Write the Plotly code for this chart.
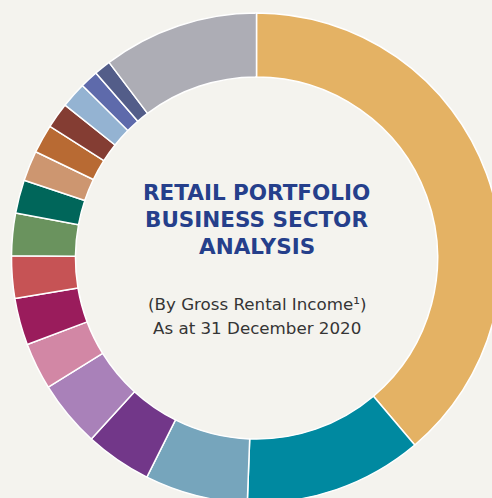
import plotly.graph_objects as go

sectors = [
    "Food & Beverage", "Fashion", "Beauty & Health", "Services", "Department Store",
    "Leisure & Entertainment", "Supermarket", "Jewellery & Watches", "Shoes & Bags",
    "Electrical & Electronics", "Home Furnishing", "Books & Stationery", "Toys & Hobbies",
    "Information Technology", "Sporting Goods", "Gifts & Souvenirs", "Others",
]
shares = [38.9, 11.8, 6.8, 4.4, 4.4, 3.1, 3.1, 2.8, 2.8, 2.2, 2.0, 1.9, 1.7, 1.7, 1.2, 1.1, 10.3]
colors = [
    "#E4B264", "#0089A0", "#76A5BC", "#723789", "#A981B9", "#D287A5", "#9A1C5C",
    "#C65355", "#6A935E", "#00665A", "#CD9670", "#B86A33", "#843D33", "#94B3D2",
    "#5E6AAB", "#535D89", "#ADADB5",
]

title_lines = ["RETAIL PORTFOLIO", "BUSINESS SECTOR", "ANALYSIS"]
sub_lines = ["(By Gross Rental Income¹)", "As at 31 December 2020"]

W, H = 514, 516
BG = "#F4F3EE"

fig = go.Figure(go.Pie(
    labels=sectors,
    values=shares,
    marker=dict(colors=colors, line=dict(color="white", width=1.5)),
    hole=0.739,
    sort=False,
    direction="clockwise",
    rotation=0,
    textinfo="none",
    hoverinfo="label+percent",
    domain=dict(x=[11.5 / W, 501.5 / W], y=[1 - 503 / H, 1 - 13 / H]),
    showlegend=False,
))

annotations = []
for i, t in enumerate(title_lines):
    annotations.append(dict(
        text="<b>" + t + "</b>", x=256.5 / W, y=1 - (192 + 27.5 * i) / H,
        xref="paper", yref="paper", showarrow=False, xanchor="center", yanchor="middle",
        font=dict(family="DejaVu Sans", size=21.5, color="#253F8B"),
    ))
for i, t in enumerate(sub_lines):
    annotations.append(dict(
        text=t, x=256.5 / W, y=1 - (304 + 23.5 * i) / H,
        xref="paper", yref="paper", showarrow=False, xanchor="center", yanchor="middle",
        font=dict(family="DejaVu Sans", size=16.7, color="#353535"),
    ))

fig.update_layout(
    width=W, height=H,
    margin=dict(l=0, r=0, t=0, b=0),
    paper_bgcolor=BG, plot_bgcolor=BG,
    annotations=annotations,
)

fig.write_html(
    "out.html",
    config={"displayModeBar": False},
    post_script="document.body.style.margin='0';document.body.style.overflow='hidden';document.body.style.background='%s';" % BG,
)
